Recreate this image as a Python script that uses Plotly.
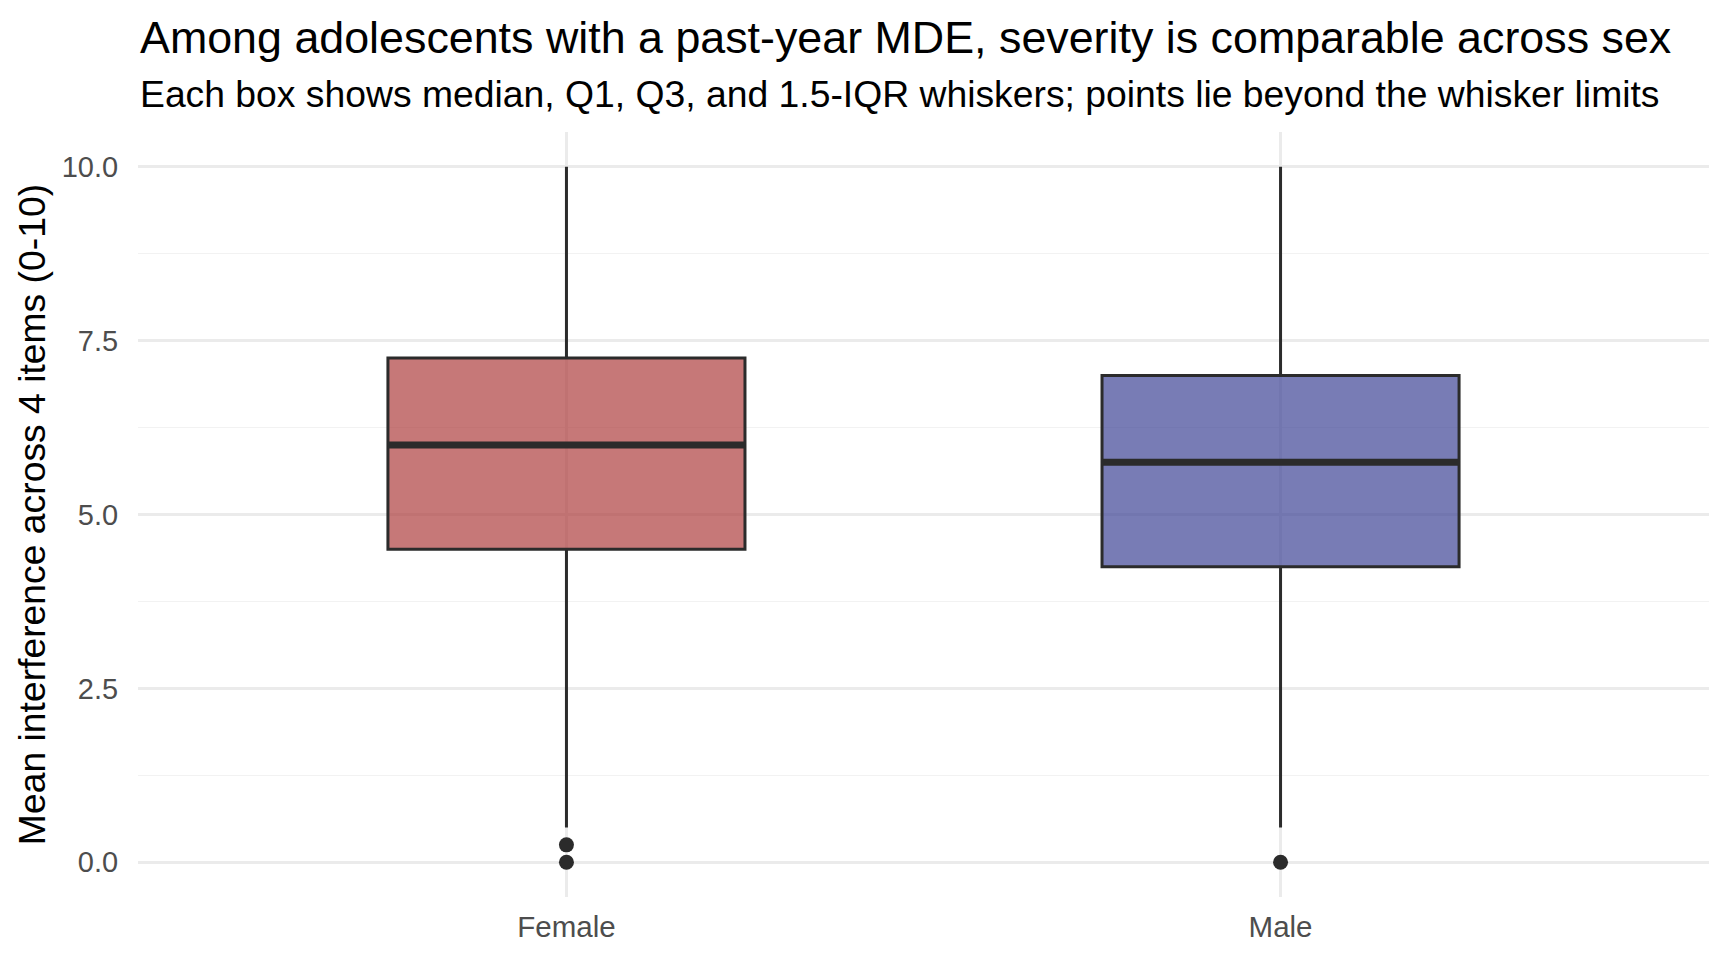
import plotly.graph_objects as go

# box statistics
sexes = ["Female", "Male"]
q1 = [4.5, 4.25]
median = [6.0, 5.75]
q3 = [7.25, 7.0]
lower_whisker = [0.5, 0.5]
upper_whisker = [10.0, 10.0]
fills = ["rgba(174,62,62,0.7)", "rgba(62,69,149,0.7)"]

outlier_sex = ["Female", "Female", "Male"]
outlier_val = [0.25, 0.0, 0.0]

y_ticks = [0, 2.5, 5, 7.5, 10]

FONT = "Liberation Sans, Arial, Helvetica, sans-serif"
INK = "#2b2b2b"


def main():
    fig = go.Figure()

    for i, s in enumerate(sexes):
        fig.add_trace(go.Box(
            x=[s], q1=[q1[i]], median=[median[i]], q3=[q3[i]],
            lowerfence=[lower_whisker[i]], upperfence=[upper_whisker[i]],
            width=0.5, whiskerwidth=0,
            fillcolor=fills[i], line=dict(color=INK, width=3),
            boxpoints=False, hoverinfo="skip", showlegend=False,
        ))
        # ggplot draws the median thicker than the box outline
        fig.add_shape(type="line", xref="x", yref="y",
                      x0=i - 0.25, x1=i + 0.25, y0=median[i], y1=median[i],
                      line=dict(color=INK, width=7))

    fig.add_trace(go.Scatter(
        x=outlier_sex, y=outlier_val, mode="markers",
        marker=dict(color=INK, size=15), showlegend=False, hoverinfo="skip",
    ))

    fig.update_layout(
        width=1728, height=960,
        margin=dict(l=138, r=19, t=132, b=63),
        paper_bgcolor="white", plot_bgcolor="white",
        font=dict(family=FONT, color="black"),
        annotations=[
            dict(text="Among adolescents with a past-year MDE, severity is comparable across sex",
                 xref="paper", yref="paper", x=0, y=1.1248, xanchor="left", yanchor="middle",
                 showarrow=False, font=dict(size=44.8, color="black")),
            dict(text="Each box shows median, Q1, Q3, and 1.5-IQR whiskers; points lie beyond the whisker limits",
                 xref="paper", yref="paper", x=0, y=1.050, xanchor="left", yanchor="middle",
                 showarrow=False, font=dict(size=37.3, color="black")),
            dict(text="Mean interference across 4 items (0-10)",
                 xref="paper", yref="paper", x=-0.0677, y=0.5, xanchor="center", yanchor="middle",
                 textangle=-90, showarrow=False, font=dict(size=37.3, color="black")),
        ],
    )
    fig.update_xaxes(
        type="category", categoryorder="array", categoryarray=sexes,
        range=[-0.6, 1.6], showgrid=True, gridcolor="#ebebeb", gridwidth=2.7,
        zeroline=False, showline=False,
        ticks="outside", ticklen=4, tickcolor="rgba(0,0,0,0)",
        tickfont=dict(size=29.5, color="#4d4d4d", family=FONT),
    )
    fig.update_yaxes(
        range=[-0.5, 10.5], tickvals=y_ticks, tickformat=".1f",
        showgrid=True, gridcolor="#ebebeb", gridwidth=2.7,
        minor=dict(dtick=1.25, tick0=0, showgrid=True, gridcolor="#f2f2f2", gridwidth=1.4),
        zeroline=False, showline=False,
        ticks="outside", ticklen=13, tickcolor="rgba(0,0,0,0)",
        tickfont=dict(size=29, color="#4d4d4d", family=FONT),
    )

    # drop the browser's default 8px body margin so the figure sits at 0,0
    fig.write_html("out.html", config={"displayModeBar": False},
                   post_script="document.body.style.margin='0';")


if __name__ == "__main__":
    main()
